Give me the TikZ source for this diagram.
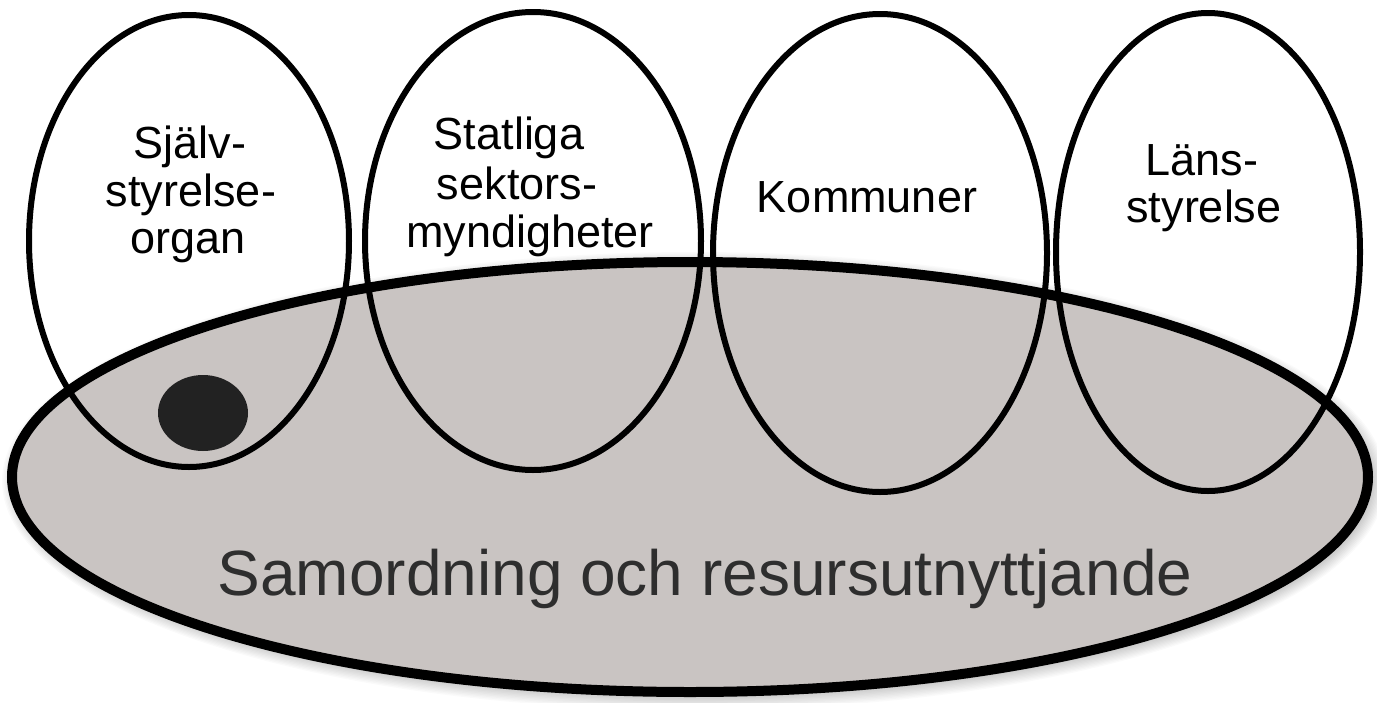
\documentclass[tikz,border=0pt]{standalone}
\usepackage{fontspec}
\setmainfont{Liberation Sans}
\usetikzlibrary{shapes.geometric}
\definecolor{fillgrey}{HTML}{C9C4C2}
\definecolor{textgrey}{HTML}{2E2E2E}
\definecolor{dotgrey}{HTML}{222222}
\begin{document}
\begin{tikzpicture}[x=1pt,y=-1pt,
  bigell/.style={ellipse, draw=black, line width=10pt, fill=fillgrey, inner sep=0pt},
  smallell/.style={ellipse, draw=black, line width=6pt, inner sep=0pt},
  lab/.style={font=\fontsize{45}{48}\selectfont, text=black, inner sep=0pt, anchor=base},
  biglab/.style={font=\fontsize{64}{70}\selectfont, text=textgrey, inner sep=0pt, anchor=base},
]
\useasboundingbox[fill=white] (0,0) rectangle (1377,702);
% soft shadow
\foreach \k in {1,...,10}{
  \fill[black, opacity=0.02] (694,481) ellipse ({678+\k*1.4pt} and {215+\k*1.4pt});
}
\node[bigell, minimum width=1356pt, minimum height=430pt] (big) at (690,477) {};
\node[smallell, minimum width=320pt, minimum height=452pt] (e1) at (189,241) {};
\node[smallell, minimum width=336pt, minimum height=458pt] (e2) at (533,241) {};
\node[smallell, minimum width=334pt, minimum height=478pt] (e3) at (880,253) {};
\node[smallell, minimum width=304pt, minimum height=478pt] (e4) at (1208,252) {};
\node[ellipse, fill=dotgrey, minimum width=90pt, minimum height=76pt, inner sep=0pt] (dot) at (203,413) {};
\node[lab] (l1a) at (190,158) {Själv-};
\node[lab] (l1b) at (191,206) {styrelse-};
\node[lab] (l1c) at (188,253) {organ};
\node[lab] (l2a) at (509,149) {Statliga};
\node[lab] (l2b) at (517,199) {sektors-};
\node[lab] (l2c) at (530,247) {myndigheter};
\node[lab] (l3) at (867,212) {Kommuner};
\node[lab] (l4a) at (1202,175) {Läns-};
\node[lab] (l4b) at (1204,222) {styrelse};
\node[biglab] (lb) at (705,595) {Samordning och resursutnyttjande};
\end{tikzpicture}
\end{document}
